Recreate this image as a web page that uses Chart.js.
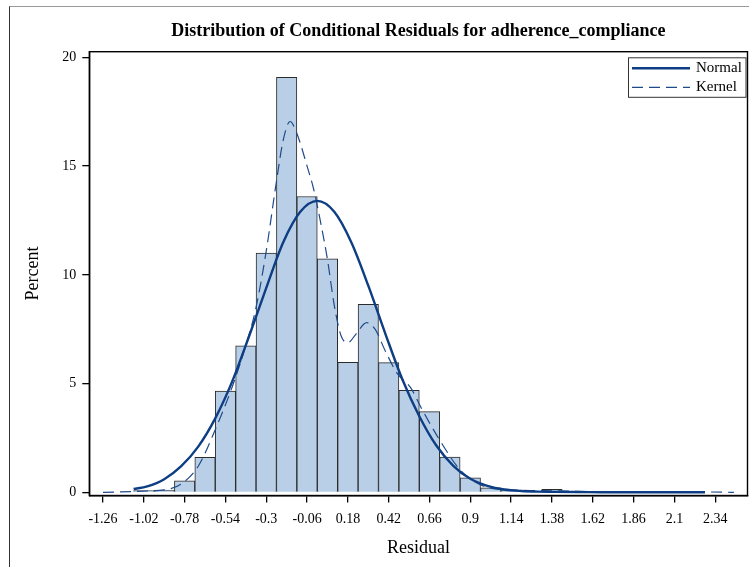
<!DOCTYPE html>
<html>
<head>
<meta charset="utf-8">
<script src="https://cdn.jsdelivr.net/npm/chart.js@4/dist/chart.umd.min.js"></script>
<style>
  html, body { margin: 0; padding: 0; background: #fff; }
  #wrap { position: relative; width: 749px; height: 567px; }
  #frame { position: absolute; left: 9px; top: 6px; right: 0; bottom: 0;
           border-left: 1px solid #333; border-top: 1px solid #999; pointer-events: none; }
</style>
</head>
<body>
<div id="wrap">
  <canvas id="residChart" width="749" height="567"></canvas>
  <div id="frame"></div>
</div>
<script>
// x tick labels (Residual) and y ticks (Percent)
const residualTicks = [-1.26, -1.02, -0.78, -0.54, -0.3, -0.06, 0.18, 0.42, 0.66, 0.9, 1.14, 1.38, 1.62, 1.86, 2.1, 2.34];
const percentTicks = [0, 5, 10, 15, 20];

// histogram bins (midpoints, width 0.12) and percent per bin
const binMidpoints = [-1.02, -0.9, -0.78, -0.66, -0.54, -0.42, -0.3, -0.18, -0.06, 0.06, 0.18, 0.3, 0.42, 0.54, 0.66, 0.78, 0.9, 1.02, 1.14, 1.26, 1.38, 1.5, 1.62, 1.74, 1.86, 1.98, 2.1, 2.22];
const binPercent = [0.08, 0.1, 0.53, 1.61, 4.66, 6.73, 11.0, 19.08, 13.6, 10.73, 5.98, 8.64, 5.96, 4.69, 3.71, 1.62, 0.67, 0.2, 0.1, 0.05, 0.14, 0.03, 0.03, 0.02, 0.02, 0.02, 0.02, 0.03];

// normal density curve
const normalX = [-1.08, -1.0, -0.9, -0.8, -0.7, -0.6, -0.5, -0.4, -0.3, -0.2, -0.1, 0, 0.1, 0.2, 0.3, 0.4, 0.5, 0.6, 0.7, 0.8, 0.9, 1.0, 1.1, 1.2, 1.3, 1.4, 1.6, 1.8, 2.0, 2.28];
const normalY = [0.15, 0.27, 0.6, 1.2, 2.1, 3.4, 5.1, 7.2, 9.4, 11.5, 12.9, 13.4, 12.9, 11.5, 9.5, 7.3, 5.2, 3.5, 2.15, 1.22, 0.62, 0.3, 0.13, 0.06, 0.03, 0.02, 0.01, 0, 0, 0];

// kernel density curve
const kernelX = [-1.26, -1.1, -1.0, -0.9, -0.8, -0.7, -0.6, -0.5, -0.43, -0.36, -0.3, -0.24, -0.2, -0.16, -0.12, -0.06, -0.02, 0.02, 0.06, 0.1, 0.14, 0.18, 0.23, 0.29, 0.34, 0.4, 0.47, 0.55, 0.61, 0.72, 0.84, 0.96, 1.1, 1.3, 1.4, 1.6, 1.9, 2.2, 2.45];
const kernelY = [0.0, 0.03, 0.06, 0.11, 0.38, 1.2, 2.88, 4.85, 6.5, 8.5, 11.1, 14.3, 16.2, 17.05, 16.5, 15.0, 13.9, 12.4, 10.7, 8.6, 7.2, 6.88, 7.3, 7.8, 7.5, 6.5, 5.47, 4.8, 3.9, 2.4, 1.03, 0.34, 0.12, 0.08, 0.07, 0.03, 0.02, 0.02, 0.0];

const serif = "'Liberation Serif', 'Times New Roman', serif";

const toPoints = (xs, ys) => xs.map((x, i) => ({ x: x, y: ys[i] }));

// frame around the plot area + inset legend
const framePlugin = {
  id: "frameAndLegend",
  afterDraw(chart) {
    const { ctx, chartArea: a } = chart;
    ctx.save();
    ctx.strokeStyle = "#000";
    ctx.lineWidth = 1.4;
    ctx.strokeRect(a.left, a.top, a.right - a.left, a.bottom - a.top);

    // legend box
    const bw = 117.5, bh = 39.5;
    const bx = a.right - 2 - bw, by = a.top + 5.6;
    ctx.fillStyle = "#fff";
    ctx.fillRect(bx, by, bw, bh);
    ctx.strokeStyle = "#333";
    ctx.lineWidth = 1;
    ctx.strokeRect(bx + 0.5, by + 0.5, bw, bh);

    const items = chart.data.datasets.filter(d => d.type === "line");
    items.forEach((d, i) => {
      const y = by + 11 + i * 19;
      ctx.beginPath();
      ctx.strokeStyle = d.borderColor;
      ctx.lineWidth = d.borderWidth;
      ctx.setLineDash(d.borderDash || []);
      ctx.moveTo(bx + 4, y);
      ctx.lineTo(bx + 62, y);
      ctx.stroke();
      ctx.setLineDash([]);
      ctx.fillStyle = "#000";
      ctx.font = "15px " + serif;
      ctx.textBaseline = "middle";
      ctx.fillText(d.label, bx + 68, y);
    });
    ctx.restore();
  }
};

new Chart(document.getElementById("residChart"), {
  data: {
    datasets: [
      {
        type: "line",
        label: "Normal",
        data: toPoints(normalX, normalY),
        borderColor: "#0d3d82",
        borderWidth: 2.4,
        pointRadius: 0,
        cubicInterpolationMode: "monotone",
        order: 1
      },
      {
        type: "line",
        label: "Kernel",
        data: toPoints(kernelX, kernelY),
        borderColor: "#1f4a8a",
        borderWidth: 1.2,
        borderDash: [11, 6],
        pointRadius: 0,
        cubicInterpolationMode: "monotone",
        order: 2
      },
      {
        type: "bar",
        label: "Residual",
        data: toPoints(binMidpoints, binPercent),
        backgroundColor: "#b9cfe7",
        borderColor: "#2b2b2b",
        borderWidth: 1,
        barPercentage: 1,
        categoryPercentage: 1,
        order: 3
      }
    ]
  },
  options: {
    responsive: false,
    animation: false,
    layout: { padding: { left: 0, right: 1.5, top: 0, bottom: 0 } },
    plugins: {
      legend: { display: false },
      tooltip: { enabled: false },
      title: {
        display: true,
        fullSize: false,
        text: "Distribution of Conditional Residuals for adherence_compliance",
        color: "#000",
        font: { family: serif, size: 18, weight: "bold", lineHeight: 1.2 },
        padding: { top: 20.2, bottom: 9.9 }
      }
    },
    scales: {
      x: {
        type: "linear",
        offset: false,
        min: -1.3406,
        max: 2.53,
        afterFit: s => { s.height = 71.5; },
        afterBuildTicks: s => { s.ticks = residualTicks.map(v => ({ value: v })); },
        grid: { display: true, offset: false, drawOnChartArea: false, drawTicks: true, tickLength: 7, color: "#000", lineWidth: 1.3 },
        border: { display: true, color: "#000", width: 1.4 },
        ticks: {
          autoSkip: false, maxRotation: 0, padding: 8, color: "#000",
          font: { family: serif, size: 14 },
          callback: v => String(v)
        },
        title: {
          display: true, text: "Residual", color: "#000",
          font: { family: serif, size: 18, lineHeight: 1.2 },
          padding: { top: 0, bottom: 8.2 }
        }
      },
      y: {
        type: "linear",
        min: -0.147,
        max: 20.26,
        afterFit: s => { s.width = 89.3; },
        afterBuildTicks: s => { s.ticks = percentTicks.map(v => ({ value: v })); },
        grid: { display: true, drawOnChartArea: false, drawTicks: true, tickLength: 7, color: "#000", lineWidth: 1.3 },
        border: { display: true, color: "#000", width: 1.4 },
        ticks: { padding: 6, color: "#000", font: { family: serif, size: 14 } },
        title: {
          display: true, text: "Percent", color: "#000",
          font: { family: serif, size: 18, lineHeight: 1.2 },
          padding: { top: 22.2, bottom: 0 }
        }
      }
    }
  },
  plugins: [framePlugin]
});
</script>
</body>
</html>
